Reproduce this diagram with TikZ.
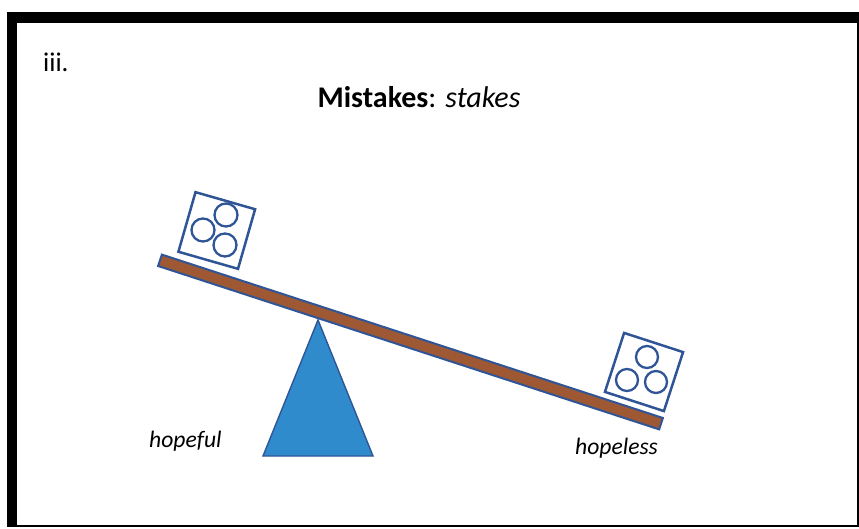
\documentclass[tikz,border=0pt]{standalone}
\usepackage{fontspec}
\setmainfont{Carlito}
\definecolor{edgeblue}{HTML}{2F5597}
\definecolor{fulcrumblue}{HTML}{2F8BCC}
\definecolor{plankbrown}{HTML}{9E5833}
\begin{document}
\begin{tikzpicture}[
        x=1pt, y=-1pt,
        plank/.style={draw=edgeblue, fill=plankbrown, line width=2pt,
            minimum width=527pt, minimum height=12pt, inner sep=0pt},
        fulcrum/.style={draw=edgeblue, fill=fulcrumblue, line width=1.4pt,
            line join=miter},
        crate/.style={draw=edgeblue, line width=2.5pt, minimum size=62pt,
            inner sep=0pt},
        ball/.style={draw=edgeblue, line width=2.3pt},
        label/.style={font=\fontsize{23.6}{28}\selectfont\itshape,
            anchor=base west, inner sep=0pt}
    ]
        % page and frame
        \fill[white] (0,0) rectangle (859,529);
        \useasboundingbox (0,0) rectangle (859,529);
        \fill[black] (7,12) rectangle (859,527);
        \fill[white] (17,23) rectangle (857,525);
        % texts
        \node[anchor=base west, inner sep=0pt,
            font=\fontsize{27}{32}\selectfont] (num) at (43,72) {iii.};
        \node[anchor=base, inner sep=0pt,
            font=\fontsize{30}{36}\selectfont] (title) at (419,108)
            {\textbf{Mistakes}: \textit{stakes}};
        % seesaw
        \node[plank, rotate=-18.06] (board) at (410.5,342) {};
        \draw[fulcrum] (318,320) -- (373,456) -- (263,456) -- cycle;
        % crates
        \node[crate, rotate=-16] (leftcrate) at (216.75,230.5) {};
        \draw[ball] (226,215) circle[radius=11.5];
        \draw[ball] (203,230) circle[radius=11.5];
        \draw[ball] (225,245) circle[radius=11.5];
        \node[crate, rotate=-18] (rightcrate) at (644,372) {};
        \draw[ball] (647,357) circle[radius=11];
        \draw[ball] (627,380) circle[radius=11];
        \draw[ball] (656,382) circle[radius=11];
        % sides
        \node[label] (hopeful) at (149,447) {hopeful};
        \node[label] (hopeless) at (575,454) {hopeless};
    \end{tikzpicture}
\end{document}
